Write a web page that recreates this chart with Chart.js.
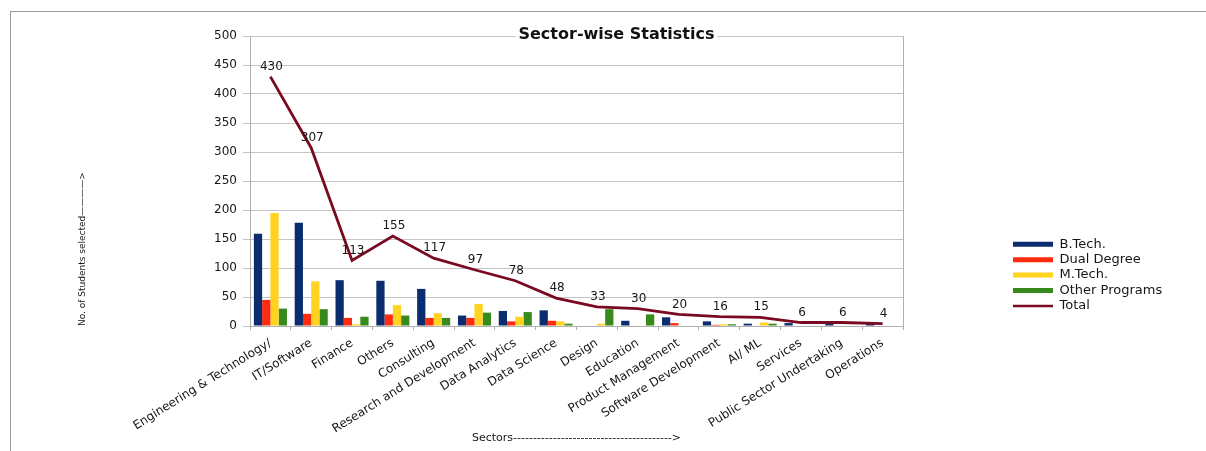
<!DOCTYPE html>
<html><head><meta charset="utf-8">
<script src="https://cdn.jsdelivr.net/npm/chart.js@4.4.1/dist/chart.umd.min.js"></script>
<style>
html,body{margin:0;padding:0;background:#fff;}
#wrap{position:relative;width:1206px;height:451px;overflow:hidden;}
#frame{position:absolute;left:10px;top:11px;right:-2px;bottom:-2px;border-top:1px solid #9a9a9a;border-left:1px solid #9a9a9a;pointer-events:none;}
canvas{position:absolute;left:0;top:0;}
</style></head>
<body><div id="wrap"><canvas id="c" width="1206" height="451"></canvas><div id="frame"></div></div>
<script>
// ---- data ----
const categories = ["Engineering & Technology/", "IT/Software", "Finance", "Others", "Consulting", "Research and Development", "Data Analytics", "Data Science", "Design", "Education", "Product Management", "Software Development", "AI/ ML", "Services", "Public Sector Undertaking", "Operations"];
const btech  = [159, 178, 79, 78, 64, 18, 26, 27, 0, 9, 15, 8, 4, 5, 6, 4];
const dual   = [45, 21, 14, 20, 14, 14, 8, 9, 0, 0, 5, 2, 1, 0, 0, 0];
const mtech  = [195, 77, 3, 36, 22, 38, 16, 8, 4, 1, 0, 3, 6, 0, 0, 0];
const other  = [30, 29, 16, 18, 14, 23, 24, 4, 29, 20, 0, 3, 4, 1, 0, 0];
const total  = [430, 307, 113, 155, 117, 97, 78, 48, 33, 30, 20, 16, 15, 6, 6, 4];
const seriesNames = ["B.Tech.", "Dual Degree", "M.Tech.", "Other Programs", "Total"];
const seriesColors = ["#0b2c6f", "#ff2b0e", "#ffd320", "#378a1b", "#7a0a22"];
const yTicks = [0, 50, 100, 150, 200, 250, 300, 350, 400, 450, 500];
const chartTitle = "Sector-wise Statistics";
const xTitle = "Sectors---------------------------------------->";
const yTitle = "No. of Students selected————>";

// ---- layout targets ----
const PLOT_RIGHT = 903;
const LEGEND_X = 1013;
const LEGEND_Y = 235.4;
const TITLE_SHIFT = 40;
const FONT = '"DejaVu Sans", sans-serif';
Chart.defaults.font.family = FONT;
Chart.defaults.color = '#161616';

const fixPlugin = {
  id: 'fixPlugin',
  afterLayout(chart) {
    const lg = chart.legend;
    if (lg) {
      const w = lg.width, h = lg.height;
      lg.left = LEGEND_X - lg.options.labels.padding; lg.right = lg.left + w;
      lg.top = LEGEND_Y; lg.bottom = lg.top + h;
    }
    const t = chart.titleBlock;
    if (t) { const w = t.width; t.left += TITLE_SHIFT; t.right = t.left + w; }
  },
  afterDatasetsDraw(chart) {
    const ctx = chart.ctx;
    const meta = chart.getDatasetMeta(4);
    ctx.save();
    ctx.font = '12px ' + FONT;
    ctx.fillStyle = '#161616';
    ctx.textAlign = 'center';
    ctx.textBaseline = 'middle';
    meta.data.forEach((pt, i) => ctx.fillText(String(total[i]), pt.x + 1, pt.y - 10));
    ctx.restore();
  },
  afterDraw(chart) {
    const t = chart.titleBlock;
    if (!t) return;
    const ctx = chart.ctx;
    ctx.save();
    ctx.font = 'bold 16px ' + FONT;
    const tw = ctx.measureText(chartTitle).width;
    const cx = (t.left + t.right) / 2;
    const cy = t.top + 9.6;
    ctx.fillStyle = '#fff';
    ctx.fillRect(cx - tw / 2 - 3, cy - 8, tw + 6, 16);
    ctx.restore();
    t.draw();
  }
};

const barDs = (label, data, color) => ({
  type: 'bar', label, data, backgroundColor: color, borderWidth: 0,
  barPercentage: 1.0, categoryPercentage: 0.81, order: 1, yAxisID: 'y'
});

const chart = new Chart(document.getElementById('c'), {
  data: {
    labels: categories,
    datasets: [
      barDs(seriesNames[0], btech, seriesColors[0]),
      barDs(seriesNames[1], dual, seriesColors[1]),
      barDs(seriesNames[2], mtech, seriesColors[2]),
      barDs(seriesNames[3], other, seriesColors[3]),
      { type: 'line', label: seriesNames[4], data: total, borderColor: seriesColors[4], backgroundColor: seriesColors[4],
        borderWidth: 2.8, pointRadius: 0, tension: 0, fill: false, order: 0, yAxisID: 'y' }
    ]
  },
  options: {
    responsive: false, animation: false, devicePixelRatio: 1,
    layout: { padding: { left: 10, top: 25.4, right: 150, bottom: 0 } },
    plugins: {
      tooltip: { enabled: false },
      title: { display: true, text: chartTitle, fullSize: false, color: '#111',
               font: { size: 16, weight: 'bold' }, padding: { top: 0, bottom: -8.6 } },
      legend: {
        position: 'right', align: 'start',
        labels: {
          usePointStyle: true, pointStyleWidth: 40, padding: 2.4, color: '#161616',
          font: { size: 13 },
          generateLabels: () => seriesNames.map((n, i) => ({
            text: n, fillStyle: seriesColors[i], strokeStyle: seriesColors[i],
            lineWidth: i < 4 ? 5 : 2.5, pointStyle: 'line', lineCap: 'butt',
            hidden: false, datasetIndex: i, fontColor: '#161616'
          }))
        }
      }
    },
    scales: {
      x: {
        offset: true,
        ticks: { autoSkip: false, minRotation: 32, maxRotation: 32, color: '#161616', font: { size: 12 }, padding: 6 },
        grid: { display: true, drawOnChartArea: false, drawTicks: true, tickLength: 4, color: '#b0b0b0', offset: true },
        border: { color: '#b0b0b0' },
        title: { display: true, text: xTitle, color: '#161616', font: { size: 11 }, padding: { top: 0, bottom: 6 } },
        afterFit(s) { s.height = 125; }
      },
      y: {
        min: 0, max: 500,
        afterBuildTicks(s) { s.ticks = yTicks.map(v => ({ value: v })); },
        ticks: { color: '#161616', font: { size: 12 }, padding: 6 },
        grid: { color: '#c4c4c4', tickLength: 7 },
        border: { color: '#b0b0b0' },
        title: { display: true, text: yTitle, align: 'start', color: '#161616', font: { size: 9 }, padding: { top: 67, bottom: 0 } },
        afterFit(s) { s.width = 240; }
      },
      y2: {
        position: 'right', min: 0, max: 500,
        ticks: { display: false },
        grid: { display: false, drawTicks: false },
        border: { display: true, color: '#b0b0b0' },
        afterFit(s) { s.width = 0; }
      }
    }
  },
  plugins: [fixPlugin]
});

// keep the plot's right edge where the reference has it
const dx = PLOT_RIGHT - chart.chartArea.right;
if (Math.abs(dx) > 0.5) {
  chart.options.layout.padding.right -= dx;
  chart.update();
}
</script>
</body></html>
